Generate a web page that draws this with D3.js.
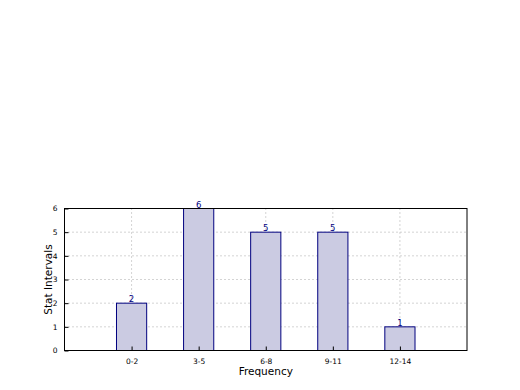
<!DOCTYPE html>
<html>
<head>
<meta charset="utf-8">
<script src="https://cdn.jsdelivr.net/npm/d3@7"></script>
<style>
  body { margin: 0; background: #fff; }
  text { font-family: "DejaVu Sans", sans-serif; }
</style>
</head>
<body>
<div class="chart"></div>
<script>
// data
var categories = ["0-2", "3-5", "6-8", "9-11", "12-14"];
var counts = [2, 6, 5, 5, 1];
var yTicks = [0, 1, 2, 3, 4, 5, 6];

var svgWidth = 520;
var svgHeight = 390;
var margin = { top: 208.5, right: 53, bottom: 39.5, left: 64.5 };
var width = svgWidth - margin.left - margin.right;
var height = svgHeight - margin.top - margin.bottom;

var svg = d3.select(".chart")
  .append("svg")
  .attr("width", svgWidth)
  .attr("height", svgHeight);

var chartGroup = svg.append("g")
  .attr("transform", `translate(${margin.left}, ${margin.top})`);

// x positions 1..5 inside domain 0..6
var xScale = d3.scaleLinear().domain([0, 6]).range([0, width]);
var yScale = d3.scaleLinear().domain([0, 6]).range([height, 0]);
var barW = 0.45;

// grid
chartGroup.selectAll(".gx")
  .data(categories)
  .enter()
  .append("line")
  .attr("x1", (d, i) => xScale(i + 1))
  .attr("x2", (d, i) => xScale(i + 1))
  .attr("y1", 0)
  .attr("y2", height)
  .attr("stroke", "#a8a8a8")
  .attr("stroke-dasharray", "1,3");
chartGroup.selectAll(".gy")
  .data(yTicks)
  .enter()
  .append("line")
  .attr("x1", 0)
  .attr("x2", width)
  .attr("y1", d => yScale(d))
  .attr("y2", d => yScale(d))
  .attr("stroke", "#a8a8a8")
  .attr("stroke-dasharray", "1,3");

// bars
chartGroup.selectAll("rect.bar")
  .data(counts)
  .enter()
  .append("rect")
  .attr("class", "bar")
  .attr("x", (d, i) => xScale(i + 1 - barW / 2))
  .attr("y", d => yScale(d))
  .attr("width", xScale(barW) - xScale(0))
  .attr("height", d => height - yScale(d))
  .attr("fill", "#cbcbe2")
  .attr("stroke", "#00007f")
  .attr("stroke-width", 1);

// value labels
chartGroup.selectAll("text.val")
  .data(counts)
  .enter()
  .append("text")
  .attr("class", "val")
  .attr("x", (d, i) => xScale(i + 1))
  .attr("y", d => yScale(d) - 1)
  .attr("text-anchor", "middle")
  .attr("font-size", 8.5)
  .attr("fill", "#00007f")
  .text(d => d);

// axes
var bottomAxis = d3.axisBottom(xScale)
  .tickValues(categories.map((c, i) => i + 1))
  .tickFormat((d, i) => categories[i])
  .tickSizeInner(-4).tickSizeOuter(0).tickPadding(8);
var leftAxis = d3.axisLeft(yScale)
  .tickValues(yTicks)
  .tickFormat(d3.format("d"))
  .tickSizeInner(-4).tickSizeOuter(0).tickPadding(7);

var gx = chartGroup.append("g")
  .attr("transform", `translate(0, ${height})`)
  .call(bottomAxis);
var gy = chartGroup.append("g").call(leftAxis);
[gx, gy].forEach(g => {
  g.select(".domain").remove();
  g.selectAll("text").attr("font-size", 7.5).attr("fill", "#000")
    .attr("font-family", "DejaVu Sans, sans-serif");
  g.selectAll("line").attr("stroke", "#000");
});

// frame
chartGroup.append("rect")
  .attr("width", width)
  .attr("height", height)
  .attr("fill", "none")
  .attr("stroke", "#000")
  .attr("stroke-width", 1);

// axis labels
chartGroup.append("text")
  .attr("transform", "rotate(-90)")
  .attr("x", -height / 2)
  .attr("y", -13)
  .attr("text-anchor", "middle")
  .attr("font-size", 10.5)
  .text("Stat Intervals");
chartGroup.append("text")
  .attr("x", width / 2)
  .attr("y", height + 24)
  .attr("text-anchor", "middle")
  .attr("font-size", 10.5)
  .text("Frequency");
</script>
</body>
</html>
